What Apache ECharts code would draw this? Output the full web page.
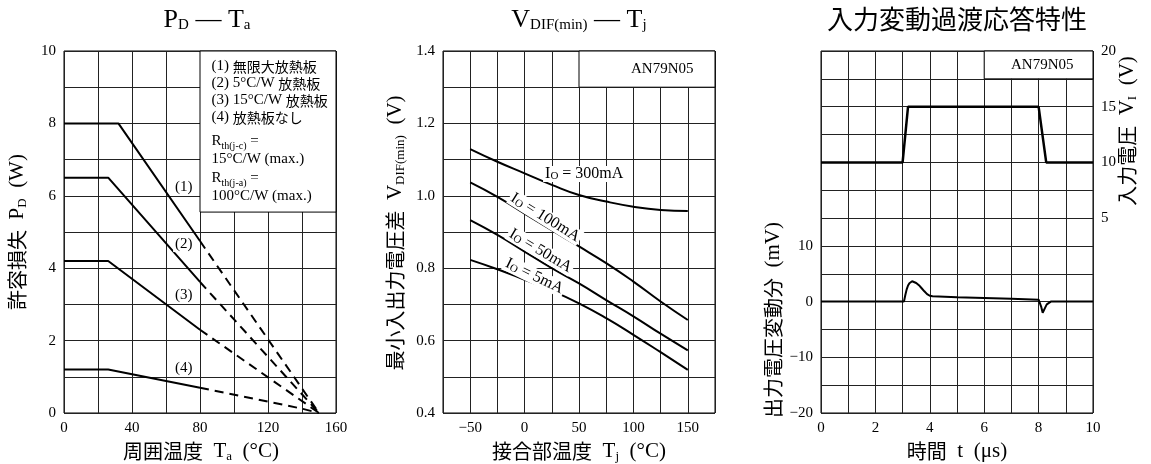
<!DOCTYPE html>
<html><head><meta charset="utf-8">
<script src="https://cdn.jsdelivr.net/npm/echarts@6/dist/echarts.min.js"></script>
<style>html,body{margin:0;padding:0;background:#fff}#c{width:1151px;height:464px}</style>
</head><body><div id="c"></div>
<script>
// ---------- Panel 1: PD - Ta ----------
const ta1 = [0, 32, 80], pd1 = [8, 8, 4.75];
const ta1d = [80, 150], pd1d = [4.75, 0];
const ta2 = [0, 26, 80], pd2 = [6.5, 6.5, 3.62];
const ta2d = [80, 150], pd2d = [3.62, 0];
const ta3 = [0, 26, 80], pd3 = [4.2, 4.2, 2.3];
const ta3d = [80, 150], pd3d = [2.3, 0];
const ta4 = [0, 26, 80], pd4 = [1.2, 1.2, 0.7];
const ta4d = [80, 140, 150], pd4d = [0.7, 0.12, 0];
const curveNames1 = ['(1)', '(2)', '(3)', '(4)'];

// ---------- Panel 2: VDIF(min) - Tj ----------
const tj = [-50, -25, 0, 25, 50, 75, 100, 125, 150];
const v300 = [1.129, 1.094, 1.062, 1.030, 1.002, 0.984, 0.970, 0.961, 0.958];
const v100 = [1.037, 0.997, 0.951, 0.905, 0.860, 0.814, 0.763, 0.708, 0.657];
const v50  = [0.933, 0.892, 0.846, 0.800, 0.758, 0.712, 0.667, 0.619, 0.573];
const v5   = [0.823, 0.797, 0.768, 0.738, 0.703, 0.662, 0.616, 0.568, 0.519];
const ioNames = ['300mA', '100mA', '50mA', '5mA'];

// ---------- Panel 3: transient response ----------
const tIn = [0, 3.0, 3.2, 8.0, 8.28, 10];
const vIn = [10, 10, 15, 15, 10, 10];
const tOut = [0, 3.05, 3.1, 3.15, 3.2, 3.25, 3.3, 3.35, 3.4, 3.5, 3.6, 3.7, 3.8, 3.9, 4.0, 4.1, 5, 6, 7, 8.0, 8.05, 8.1, 8.15, 8.2, 8.25, 8.3, 8.35, 8.45, 10];
const vOut = [0, 0, 1.2, 2.2, 2.9, 3.3, 3.55, 3.65, 3.6, 3.35, 2.95, 2.4, 1.85, 1.35, 1.05, 0.95, 0.8, 0.65, 0.5, 0.35, 0.0, -1.0, -2.0, -1.7, -1.0, -0.5, -0.2, 0, 0];
const modelName = 'AN79N05';

const FONT = "'Liberation Serif','Noto Sans CJK JP',serif";
const CJK = "'Noto Sans CJK JP',sans-serif";
const pairs = (xs, ys) => xs.map((x, i) => [x, ys[i]]);
const minus = s => String(s).replace('-', '\u2212');

function line(gi, yi, xs, ys, dashed, extra) {
  return Object.assign({
    type: 'line', xAxisIndex: gi, yAxisIndex: yi, data: pairs(xs, ys),
    symbol: 'none', silent: true, z: 3,
    lineStyle: { color: '#000', width: 2, type: dashed ? [9, 6] : 'solid' }
  }, extra || {});
}

const grid = (left) => ({ left: left, top: 51, width: 272, height: 362, show: true, borderColor: '#000', borderWidth: 1, backgroundColor: 'transparent' });
const labelStyle = { color: '#000', fontSize: 15, fontFamily: FONT, margin: 8 };
const split = { show: true, lineStyle: { color: '#222', width: 1 } };
function axis(gi, min, max, interval, fmt, extra) {
  return Object.assign({
    type: 'value', gridIndex: gi, min: min, max: max, interval: interval,
    axisLine: { show: false }, axisTick: { show: false },
    axisLabel: Object.assign({ formatter: fmt }, labelStyle),
    splitLine: split
  }, extra || {});
}

const rs = {
  j: { fontSize: 20, fontFamily: CJK, fill: '#000', lineHeight: 24 },
  m: { fontSize: 21, fontFamily: FONT, fill: '#000', lineHeight: 24 },
  s: { fontSize: 13, fontFamily: FONT, fill: '#000', lineHeight: 12, verticalAlign: 'bottom' }
};
const trs = {
  m: { fontSize: 26, fontFamily: FONT, fill: '#000', lineHeight: 26 },
  s: { fontSize: 15, fontFamily: FONT, fill: '#000', lineHeight: 16, verticalAlign: 'bottom' }
};
function txt(x, y, text, rich, rot) {
  return { type: 'text', x: x, y: y, rotation: rot || 0, silent: true, z: 10,
    style: { text: text, rich: rich, align: 'center', verticalAlign: 'middle' } };
}

const legendRich = {
  t: { fontSize: 15, fontFamily: FONT, color: '#000', lineHeight: 17 },
  j: { fontSize: 14, fontFamily: CJK, color: '#000', lineHeight: 17 },
  g: { fontSize: 4, lineHeight: 5 },
  r: { fontSize: 15, fontFamily: FONT, color: '#000', lineHeight: 20 },
  s: { fontSize: 10, fontFamily: FONT, color: '#000', lineHeight: 11, verticalAlign: 'bottom' }
};
const legendText = [
  '{t|(1) }{j|無限大放熱板}',
  '{t|(2) 5°C/W }{j|放熱板}',
  '{t|(3) 15°C/W }{j|放熱板}',
  '{t|(4) }{j|放熱板なし}',
  '{g| }',
  '{r|R}{s|th(j-c)}{r| =}',
  '{t|15°C/W (max.)}',
  '{r|R}{s|th(j-a)}{r| =}',
  '{t|100°C/W (max.)}'
].join('\n');

const boxStyle = { color: '#fff', borderColor: '#000', borderWidth: 1, opacity: 1 };
const curveLbl = { show: true, position: 'inside', color: '#000', fontSize: 15, fontFamily: FONT, backgroundColor: '#fff', padding: [1, 2], formatter: p => p.name };
const ioRich = {
  m: { fontSize: 16, fontFamily: FONT, color: '#000' },
  s: { fontSize: 11, fontFamily: FONT, color: '#000', verticalAlign: 'bottom', lineHeight: 10 }
};
function ioPoint(x, y, name, rot) {
  return { coord: [x, y], name: name, label: { rotate: rot } };
}
const ioMark = (pts) => ({
  symbol: 'circle', symbolSize: 1, itemStyle: { color: 'rgba(0,0,0,0)' }, silent: true,
  label: { show: true, position: 'inside', backgroundColor: '#fff', padding: [0, 2], rich: ioRich,
    formatter: p => '{m|I}{s|O}{m| = ' + p.name + '}' },
  data: pts
});

const option = {
  animation: false,
  backgroundColor: '#fff',
  grid: [grid(64), grid(443), grid(821)],
  xAxis: [
    axis(0, 0, 160, 20, v => v % 40 === 0 ? String(v) : ''),
    axis(1, -75, 175, 25, v => v % 50 === 0 ? minus(v) : ''),
    axis(2, 0, 10, 1, v => v % 2 === 0 ? String(v) : '')
  ],
  yAxis: [
    axis(0, 0, 10, 1, v => v % 2 === 0 ? String(v) : ''),
    axis(1, 0.4, 1.4, 0.1, v => { const k = Math.round(v * 10); return k % 2 === 0 ? (k / 10).toFixed(1) : ''; }),
    axis(2, -20, 45, 5, v => [-20, -10, 0, 10].indexOf(v) >= 0 ? minus(v) : ''),
    axis(2, -12.5, 20, 2.5, v => [5, 10, 15, 20].indexOf(v) >= 0 ? String(v) : '', { position: 'right', splitLine: { show: false } })
  ],
  series: [
    line(0, 0, ta1, pd1, false, {
      markArea: { silent: true, itemStyle: boxStyle,
        label: { show: true, position: [12, 7.5], formatter: legendText, rich: legendRich },
        data: [[{ coord: [80, 10] }, { coord: [160, 5.55] }]] },
      markPoint: { symbol: 'circle', symbolSize: 1, itemStyle: { color: 'rgba(0,0,0,0)' }, silent: true, label: curveLbl,
        data: [
          { coord: [70.5, 6.25], name: curveNames1[0] },
          { coord: [70.5, 4.68], name: curveNames1[1] },
          { coord: [70.5, 3.25], name: curveNames1[2] },
          { coord: [70.5, 1.24], name: curveNames1[3] }
        ] }
    }),
    line(0, 0, ta1d, pd1d, true),
    line(0, 0, ta2, pd2, false), line(0, 0, ta2d, pd2d, true),
    line(0, 0, ta3, pd3, false), line(0, 0, ta3d, pd3d, true),
    line(0, 0, ta4, pd4, false), line(0, 0, ta4d, pd4d, true),

    line(1, 1, tj, v300, false, { smooth: true,
      markArea: { silent: true, itemStyle: boxStyle,
        label: { show: true, position: 'insideRight', distance: 22, color: '#000', fontSize: 15, fontFamily: FONT, formatter: modelName },
        data: [[{ coord: [50, 1.4] }, { coord: [175, 1.3] }]] },
      markPoint: ioMark([ioPoint(54.8, 1.060, ioNames[0], 0)]) }),
    line(1, 1, tj, v100, false, { smooth: true, markPoint: ioMark([ioPoint(19, 0.94, ioNames[1], -32)]) }),
    line(1, 1, tj, v50, false, { smooth: true, markPoint: ioMark([ioPoint(14.6, 0.848, ioNames[2], -31)]) }),
    line(1, 1, tj, v5, false, { smooth: true, markPoint: ioMark([ioPoint(9, 0.778, ioNames[3], -26)]) }),

    line(2, 2, tOut, vOut, false, {
      markArea: { silent: true, itemStyle: boxStyle,
        label: { show: true, position: 'insideRight', distance: 20, color: '#000', fontSize: 15, fontFamily: FONT, formatter: modelName },
        data: [[{ coord: [6, 45] }, { coord: [10, 40] }]] } }),
    line(2, 3, tIn, vIn, false, { lineStyle: { color: '#000', width: 2.5 } })
  ],
  graphic: [
    txt(207, 20, '{m|P}{s|D}{m| — T}{s|a}', trs),
    txt(579, 20, '{m|V}{s|DIF(min)}{m| — T}{s|j}', trs),
    txt(957, 19, '{j|入力変動過渡応答特性}', { j: { fontSize: 26, fontFamily: CJK, fill: '#000' } }),
    txt(201, 451, '{j|周囲温度}{m|  T}{s|a}{m|  (°C)}', rs),
    txt(579, 451, '{j|接合部温度}{m|  T}{s|j}{m|  (°C)}', rs),
    txt(957, 451, '{j|時間}{m|  t  (μs)}', rs),
    txt(17, 232, '{j|許容損失}{m|  P}{s|D}{m|  (W)}', rs, Math.PI / 2),
    txt(395, 233, '{j|最小入出力電圧差}{m|  V}{s|DIF(min)}{m|  (V)}', rs, Math.PI / 2),
    txt(773, 320, '{j|出力電圧変動分}{m|  (mV)}', rs, Math.PI / 2),
    txt(1127, 131, '{j|入力電圧}{m|  V}{s|I}{m|  (V)}', rs, Math.PI / 2)
  ]
};
const chart = echarts.init(document.getElementById('c'), null, { renderer: 'canvas' });
chart.setOption(option);
</script>
</body></html>
